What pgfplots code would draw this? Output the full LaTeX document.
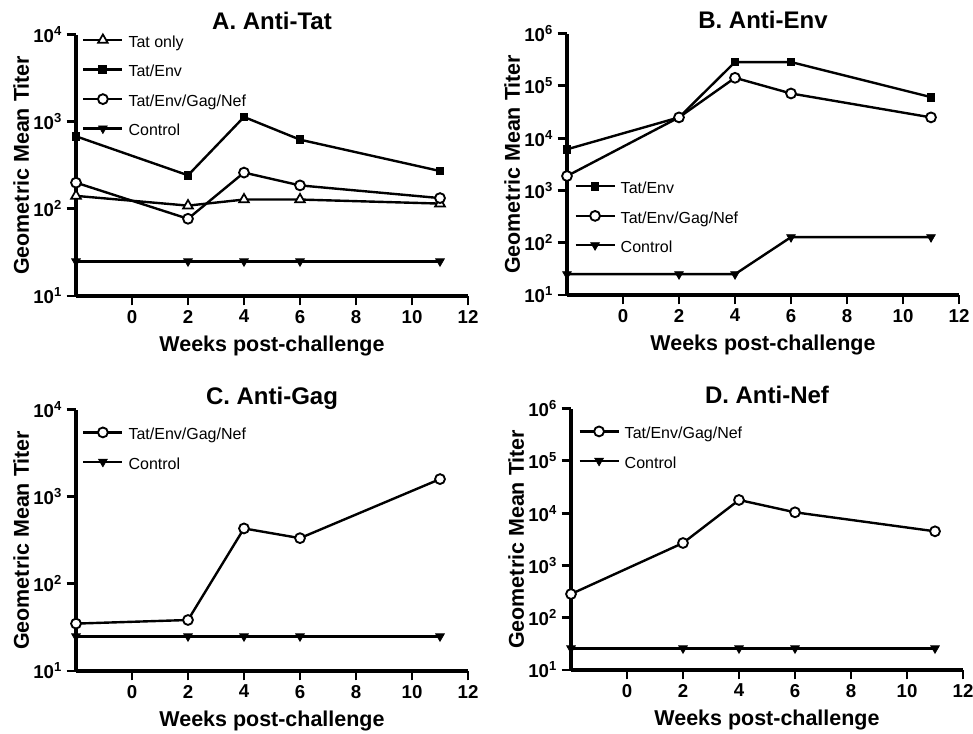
\documentclass[border=0pt]{standalone}
\usepackage{fontspec}
\setmainfont{Liberation Sans}
\usepackage{pgfplots}
\pgfplotsset{compat=1.18}

\pgfplotsset{
  panel/.style={
    scale only axis, width=294pt, height=196pt,
    axis lines=left, axis line style={-, line width=2.6pt},
    xmin=-2, xmax=12, xtick={0,2,4,6,8,10,12},
    xticklabels={0,2,4,6,8,10,12},
    ymin=10,
    yminorticks=false,
    tick align=outside, major tick length=7pt,
    tick style={black, line width=2.2pt},
    tick label style={font=\fontsize{14}{16}\selectfont\bfseries},
    label style={font=\fontsize{16.1}{18}\selectfont\bfseries},
    title style={font=\fontsize{18}{20}\selectfont\bfseries, text depth=4pt, yshift=-10pt},
    xlabel={Weeks post-challenge},
    ylabel={Geometric Mean Titer},
    xlabel style={at={(axis description cs:0.5,-0.19)}, anchor=center},
    ylabel style={at={(axis description cs:-0.14,0.5)}, anchor=center},
    legend style={draw=none, fill=none, font=\fontsize{12}{14}\selectfont, anchor=north west, row sep=10pt, column sep=3.75pt, nodes={inner sep=0pt, text height=9pt, text depth=3pt}},
    legend cell align=left,
    legend image code/.code={\draw[mark repeat=2, mark phase=2, ##1] plot coordinates {(0pt,2.6pt) (14.6pt,2.6pt) (29.2pt,2.6pt)};},
    clip=false,
  },
  tatonly/.style={black, line width=1.8pt, mark=triangle*, mark size=4.2pt, mark options={fill=white, line width=1.3pt}},
  tatenv/.style={black, line width=1.8pt, mark=square*, mark size=2.8pt, mark options={fill=black, line width=1pt}},
  allfour/.style={black, line width=1.8pt, mark=*, mark size=3.7pt, mark options={fill=white, line width=1.4pt}},
  control/.style={black, line width=1.8pt, mark=triangle*, mark size=3.8pt, mark options={fill=black, rotate=180, line width=0.5pt}},
}

\begin{document}
\begin{tikzpicture}
\useasboundingbox (0,0) rectangle (729.75pt,550.5pt);

% Panel A
\begin{semilogyaxis}[panel, at={(57pt,328.5pt)}, anchor=south west,
  ymax=10000, ytick={10,100,1000,10000},
  yticklabels={10\textsuperscript{1},10\textsuperscript{2},10\textsuperscript{3},10\textsuperscript{4}},
  title={A. Anti-Tat},
  legend style={at={(0.005,1.012)}}]
\addplot[tatonly] coordinates {(-2,141) (2,109) (4,128) (6,128) (11,115)};
\addlegendentry{Tat only}
\addplot[tatenv] coordinates {(-2,681) (2,243) (4,1135) (6,623) (11,272)};
\addlegendentry{Tat/Env}
\addplot[allfour] coordinates {(-2,200) (2,77) (4,261) (6,186) (11,133)};
\addlegendentry{Tat/Env/Gag/Nef}
\addplot[control] coordinates {(-2,25) (2,25) (4,25) (6,25) (11,25)};
\addlegendentry{Control}
\end{semilogyaxis}

% Panel B
\begin{semilogyaxis}[panel, at={(425.25pt,329.25pt)}, anchor=south west,
  ymax=1000000, ytick={10,100,1000,10000,100000,1000000},
  yticklabels={10\textsuperscript{1},10\textsuperscript{2},10\textsuperscript{3},10\textsuperscript{4},10\textsuperscript{5},10\textsuperscript{6}},
  title={B. Anti-Env},
  legend style={at={(0.008,0.445)}}]
\addplot[tatenv] coordinates {(-2,6130) (2,25000) (4,286000) (6,286000) (11,61000)};
\addlegendentry{Tat/Env}
\addplot[allfour] coordinates {(-2,1890) (2,25000) (4,143000) (6,71700) (11,25000)};
\addlegendentry{Tat/Env/Gag/Nef}
\addplot[control] coordinates {(-2,25) (2,25) (4,25) (6,128) (11,128)};
\addlegendentry{Control}
\end{semilogyaxis}

% Panel C
\begin{semilogyaxis}[panel, at={(57pt,47.25pt)}, anchor=south west,
  ymax=10000, ytick={10,100,1000,10000},
  yticklabels={10\textsuperscript{1},10\textsuperscript{2},10\textsuperscript{3},10\textsuperscript{4}},
  title={C. Anti-Gag},
  legend style={at={(0.005,0.943)}}]
\addplot[allfour] coordinates {(-2,35) (2,38.5) (4,433) (6,335) (11,1596)};
\addlegendentry{Tat/Env/Gag/Nef}
\addplot[control] coordinates {(-2,25) (2,25) (4,25) (6,25) (11,25)};
\addlegendentry{Control}
\end{semilogyaxis}

% Panel D
\begin{semilogyaxis}[panel, at={(428.25pt,48pt)}, anchor=south west,
  ymax=1000000, ytick={10,100,1000,10000,100000,1000000},
  yticklabels={10\textsuperscript{1},10\textsuperscript{2},10\textsuperscript{3},10\textsuperscript{4},10\textsuperscript{5},10\textsuperscript{6}},
  title={D. Anti-Nef},
  legend style={at={(0.008,0.943)}}]
\addplot[allfour] coordinates {(-2,284) (2,2690) (4,17900) (6,10400) (11,4500)};
\addlegendentry{Tat/Env/Gag/Nef}
\addplot[control] coordinates {(-2,26) (2,26) (4,26) (6,26) (11,26)};
\addlegendentry{Control}
\end{semilogyaxis}
\end{tikzpicture}
\end{document}
